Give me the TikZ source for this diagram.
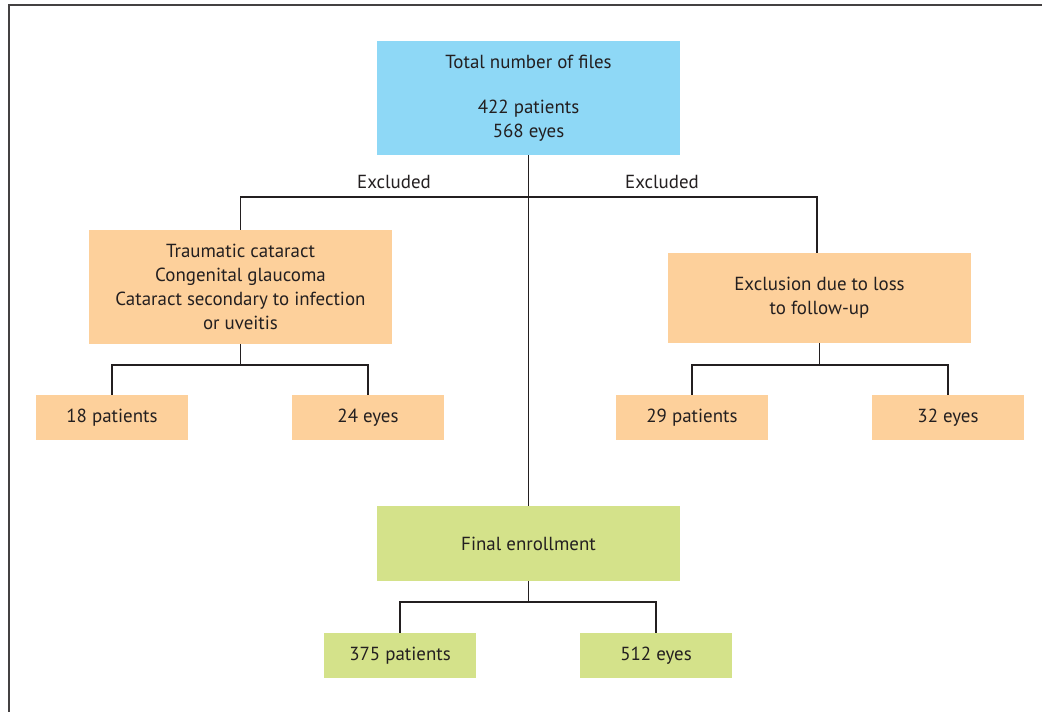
\documentclass[tikz,border=0pt]{standalone}
\usepackage{fontspec}
\setmainfont{PT Sans}
\definecolor{boxblue}{HTML}{8ED8F6}
\definecolor{boxorange}{HTML}{FDD09B}
\definecolor{boxgreen}{HTML}{D4E28A}
\definecolor{ink}{HTML}{231F20}
\begin{document}
\begin{tikzpicture}[x=0.75pt,y=-0.75pt,
  box/.style={inner sep=0pt,align=center,font=\fontsize{14.2}{18}\selectfont,text=ink},
  bluebox/.style={box,fill=boxblue,minimum width=303*0.75pt,minimum height=114*0.75pt},
  orbox/.style={box,fill=boxorange},
  grbox/.style={box,fill=boxgreen},
  smallor/.style={orbox,minimum width=152*0.75pt,minimum height=45*0.75pt},
  smallgr/.style={grbox,minimum width=152*0.75pt,minimum height=45*0.75pt},
  conn/.style={draw=ink,line width=1.05pt},
  lbl/.style={inner sep=0pt,font=\fontsize{14.2}{16}\selectfont,text=ink}]
\useasboundingbox (0,0) rectangle (1042,712);
\draw[ink!85,line width=1.5pt] (8.5,712) -- (8.5,5) -- (1042,5);
% nodes
\node[bluebox] (top) at (528.5,98) {Total number of files\\[16pt]422 patients\\568 eyes};
\node[orbox,minimum width=303*0.75pt,minimum height=114*0.75pt] (left) at (240.5,287) {Traumatic cataract\\Congenital glaucoma\\Cataract secondary to infection\\or uveitis};
\node[orbox,minimum width=303*0.75pt,minimum height=90*0.75pt] (right) at (819.5,298) {Exclusion due to loss\\to follow-up};
\node[grbox,minimum width=303*0.75pt,minimum height=75*0.75pt] (final) at (528.5,543.5) {Final enrollment};
\node[smallor] (p18) at (112,417.5) {18 patients};
\node[smallor] (e24) at (368,417.5) {24 eyes};
\node[smallor] (p29) at (692,417.5) {29 patients};
\node[smallor] (e32) at (948,417.5) {32 eyes};
\node[smallgr] (p375) at (400,655.5) {375 patients};
\node[smallgr] (e512) at (656,655.5) {512 eyes};
\node[lbl] (ex1) at (394,182) {Excluded};
\node[lbl] (ex2) at (662,182) {Excluded};
% coordinates
\coordinate (jl) at (240.5,197);
\coordinate (jr) at (817,197);
\coordinate (jl2) at (240.5,365);
\coordinate (jr2) at (819.5,365);
\coordinate (jf) at (528.5,602);
% connectors
\draw[conn] (top.south) -- (final.north);
\draw[conn] (left.north) -- (jl) -- (jr) -- (jr|-right.north);
\draw[conn] (left.south) -- (jl2);
\draw[conn] (p18.north) |- (jl2) -| (e24.north);
\draw[conn] (right.south) -- (jr2);
\draw[conn] (p29.north) |- (jr2) -| (e32.north);
\draw[conn] (final.south) -- (jf);
\draw[conn] (p375.north) |- (jf) -| (e512.north);
\end{tikzpicture}
\end{document}
